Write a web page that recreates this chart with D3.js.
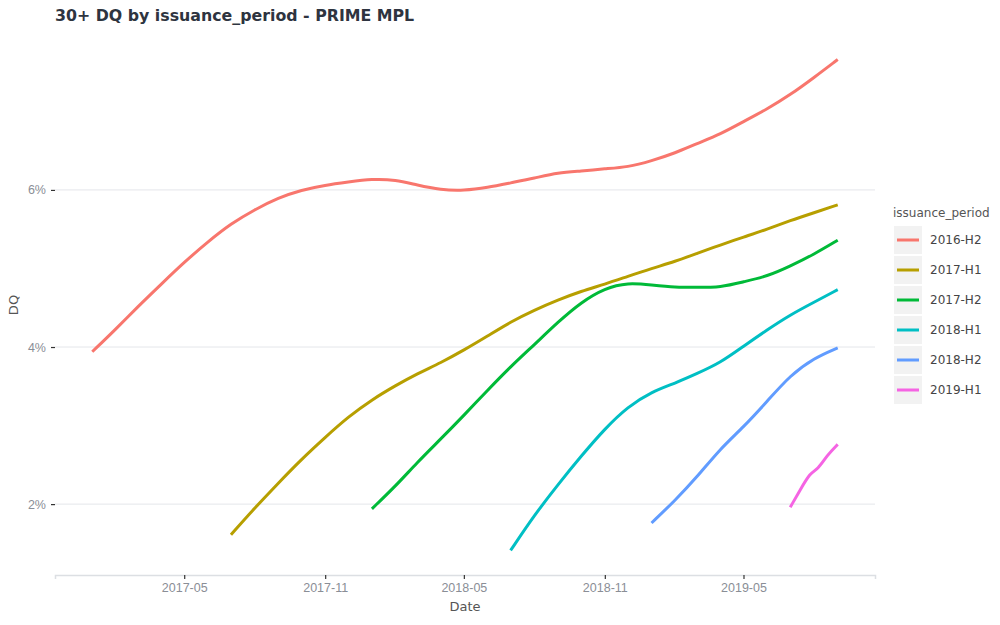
<!DOCTYPE html>
<html>
<head>
<meta charset="utf-8">
<script src="https://cdn.jsdelivr.net/npm/d3@7"></script>
<style>
  body { margin: 0; background: #fff; }
  svg { font-family: "DejaVu Sans", sans-serif; }
</style>
</head>
<body>
<svg id="chart" width="1000" height="625"></svg>
<script>
// series, monthly values (DQ %)
var periods = ["2016-H2", "2017-H1", "2017-H2", "2018-H1", "2018-H2", "2019-H1"];
var colors = ["#F8766D", "#B79F00", "#00BA38", "#00BFC4", "#619CFF", "#F564E3"];

var dq2016H2 = [3.94, 4.23, 4.51, 4.80, 5.08, 5.34, 5.57, 5.75, 5.90, 6.00, 6.06, 6.10, 6.14, 6.13, 6.06, 6.00,
  5.99, 6.03, 6.09, 6.15, 6.22, 6.24, 6.27, 6.29, 6.37, 6.47, 6.59, 6.71, 6.87, 7.03, 7.21, 7.43, 7.66];
var dq2017H1 = [1.61, 1.95, 2.27, 2.57, 2.85, 3.11, 3.33, 3.51, 3.66, 3.80, 3.96, 4.14, 4.32, 4.47, 4.60, 4.71,
  4.80, 4.90, 5.00, 5.09, 5.19, 5.30, 5.40, 5.50, 5.61, 5.71, 5.81];
var dq2017H2 = [1.94, 2.23, 2.53, 2.83, 3.13, 3.45, 3.75, 4.03, 4.32, 4.57, 4.75, 4.82, 4.79, 4.76, 4.76, 4.76,
  4.83, 4.90, 5.03, 5.18, 5.36];
var dq2018H1 = [1.41, 1.86, 2.25, 2.61, 2.96, 3.24, 3.43, 3.54, 3.66, 3.80, 4.01, 4.22, 4.41, 4.57, 4.73];
var dq2018H2 = [1.76, 2.05, 2.34, 2.71, 2.98, 3.31, 3.64, 3.86, 3.99];
// 2019-H1 only has a couple of months, read at finer dates
var dates2019H1 = ["2019-07-01", "2019-07-14", "2019-07-27", "2019-08-06", "2019-08-18", "2019-09-01"];
var dq2019H1 = [1.96, 2.18, 2.40, 2.44, 2.62, 2.76];

var startMonths = ["2017-01", "2017-07", "2018-01", "2018-07", "2019-01"];
var xTicks = ["2017-05", "2017-11", "2018-05", "2018-11", "2019-05"];
var yTicks = [2, 4, 6];

var parseMonth = d3.timeParse("%Y-%m");
var parseDay = d3.timeParse("%Y-%m-%d");

function monthly(start, vals) {
  var s = parseMonth(start);
  return vals.map((v, i) => ({ date: d3.timeMonth.offset(s, i), value: v }));
}

var series = [
  monthly(startMonths[0], dq2016H2),
  monthly(startMonths[1], dq2017H1),
  monthly(startMonths[2], dq2017H2),
  monthly(startMonths[3], dq2018H1),
  monthly(startMonths[4], dq2018H2),
  dates2019H1.map((d, i) => ({ date: parseDay(d), value: dq2019H1[i] }))
];

var margin = { left: 55, right: 125, top: 35, bottom: 50 };
var width = 1000, height = 625;

var all = series.flat();
var xExt = d3.extent(all, d => d.date);
var yExt = d3.extent(all, d => d.value);
var xPad = (xExt[1] - xExt[0]) * 0.05;
var yPad = (yExt[1] - yExt[0]) * 0.05;

var x = d3.scaleTime()
    .domain([new Date(+xExt[0] - xPad), new Date(+xExt[1] + xPad)])
    .range([margin.left, width - margin.right]);
var y = d3.scaleLinear()
    .domain([yExt[0] - yPad, yExt[1] + yPad])
    .range([height - margin.bottom, margin.top]);

var svg = d3.select("#chart");

// gridlines
svg.append("g")
  .selectAll("line")
  .data(yTicks)
  .join("line")
    .attr("x1", margin.left)
    .attr("x2", width - margin.right)
    .attr("y1", d => y(d))
    .attr("y2", d => y(d))
    .attr("stroke", "#e4e6ea")
    .attr("stroke-width", 1);

// x axis
var xAxis = svg.append("g")
    .attr("transform", `translate(0,${height - margin.bottom})`)
    .call(d3.axisBottom(x)
      .tickValues(xTicks.map(parseMonth))
      .tickFormat(d3.timeFormat("%Y-%m"))
      .tickSize(4)
      .tickPadding(4));
xAxis.select(".domain").attr("stroke", "#dcdfe3").attr("stroke-width", 1.5);
xAxis.selectAll(".tick line").attr("stroke", "#333").attr("stroke-width", 1.2);
xAxis.selectAll(".tick text").attr("fill", "#8a8e96").attr("font-size", 12.5);

// y axis
var yAxis = svg.append("g")
    .attr("transform", `translate(${margin.left},0)`)
    .call(d3.axisLeft(y)
      .tickValues(yTicks)
      .tickFormat(d => d + "%")
      .tickSize(4)
      .tickPadding(5));
yAxis.select(".domain").remove();
yAxis.selectAll(".tick line").attr("stroke", "#333").attr("stroke-width", 1.2);
yAxis.selectAll(".tick text").attr("fill", "#8a8e96").attr("font-size", 12.5);

// lines
var line = d3.line()
    .x(d => x(d.date))
    .y(d => y(d.value))
    .curve(d3.curveBasis);

svg.append("g")
    .attr("fill", "none")
    .attr("stroke-width", 3)
    .attr("stroke-linecap", "butt")
  .selectAll("path")
  .data(series)
  .join("path")
    .attr("stroke", (d, i) => colors[i])
    .attr("d", line);

// titles
svg.append("text")
    .attr("x", 55)
    .attr("y", 21)
    .attr("font-size", 15.8)
    .attr("font-weight", "bold")
    .attr("fill", "#2e3440")
    .text("30+ DQ by issuance_period - PRIME MPL");

svg.append("text")
    .attr("x", (margin.left + width - margin.right) / 2)
    .attr("y", 611)
    .attr("text-anchor", "middle")
    .attr("font-size", 13)
    .attr("fill", "#555")
    .text("Date");

svg.append("text")
    .attr("transform", `translate(18,${(margin.top + height - margin.bottom) / 2}) rotate(-90)`)
    .attr("text-anchor", "middle")
    .attr("font-size", 13)
    .attr("fill", "#555")
    .text("DQ");

// legend
var legend = svg.append("g").attr("transform", "translate(893,0)");
legend.append("text")
    .attr("x", 0)
    .attr("y", 217)
    .attr("font-size", 12)
    .attr("fill", "#555")
    .text("issuance_period");

var key = legend.selectAll("g.key")
  .data(periods)
  .join("g")
    .attr("class", "key")
    .attr("transform", (d, i) => `translate(1,${226 + i * 30})`);
key.append("rect")
    .attr("width", 28)
    .attr("height", 28)
    .attr("fill", "#f2f2f2");
key.append("line")
    .attr("x1", 3).attr("x2", 25)
    .attr("y1", 14).attr("y2", 14)
    .attr("stroke", (d, i) => colors[i])
    .attr("stroke-width", 3);
key.append("text")
    .attr("x", 36)
    .attr("y", 18)
    .attr("font-size", 12)
    .attr("fill", "#444")
    .text(d => d);
</script>
</body>
</html>
